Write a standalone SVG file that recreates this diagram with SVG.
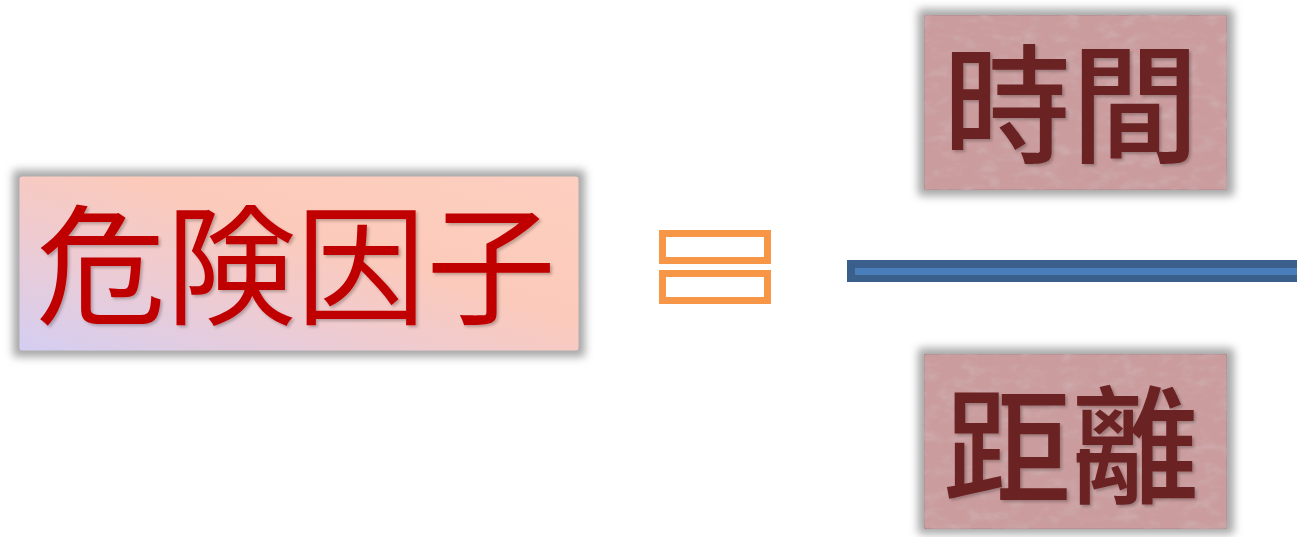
<svg xmlns="http://www.w3.org/2000/svg" width="1297" height="537" viewBox="0 0 1297 537">
<style>
.cjk{font-family:"Noto Sans CJK TC","Noto Sans CJK JP",sans-serif;font-weight:400;text-anchor:middle}
.red{fill:#C00000}
.brown{fill:#6B2222;font-weight:500}
.shade{fill:#a8a8a8;filter:url(#blur)}
.eq{fill:none;stroke:#F79646;stroke-width:7}
</style>
<defs>
<filter id="blur" x="-10%" y="-20%" width="120%" height="140%"><feGaussianBlur stdDeviation="4"/></filter>
<filter id="ts" x="-5%" y="-5%" width="110%" height="110%"><feDropShadow dx="2" dy="2" stdDeviation="1.5" flood-color="#000" flood-opacity="0.25"/></filter>
<filter id="tex" x="0" y="0" width="100%" height="100%">
<feTurbulence type="fractalNoise" baseFrequency="0.05 0.09" numOctaves="3" seed="4" result="n"/>
<feColorMatrix in="n" type="matrix" values="0 0 0 0 0.62  0 0 0 0 0.42  0 0 0 0 0.43  0 0 0 -2 1.05" result="c"/>
<feComposite in="c" in2="SourceGraphic" operator="in" result="m"/>
<feMerge><feMergeNode in="SourceGraphic"/><feMergeNode in="m"/></feMerge>
</filter>
<linearGradient id="pink" x1="0" y1="1" x2="1" y2="0">
<stop offset="0" stop-color="#D4CEF2"/>
<stop offset="0.35" stop-color="#EFCBD0"/>
<stop offset="0.6" stop-color="#FCCABA"/>
<stop offset="1" stop-color="#FDCFC0"/>
</linearGradient>
</defs>

<g id="node-risk">
<rect class="shade" x="13" y="170" width="572" height="187" rx="3"/>
<rect x="19" y="176" width="560" height="175" rx="3" fill="url(#pink)" stroke="#b0b0b0" stroke-width="1"/>
<text class="cjk red" x="296" y="314" font-size="130" filter="url(#ts)">危険因子</text>
</g>

<g id="node-equals">
<rect class="eq" x="662.5" y="233.5" width="105" height="27"/>
<rect class="eq" x="662.5" y="273.5" width="105" height="27"/>
</g>

<g id="connectors">
<rect x="847" y="260" width="460" height="22" fill="#3A5F8B"/>
<rect x="855" y="268" width="450" height="7" fill="#4A7EBB"/>
</g>

<g id="node-time">
<rect class="shade" x="918" y="9" width="316" height="187" rx="3"/>
<rect x="924" y="15" width="303" height="175" rx="3" fill="#CB9C9E" stroke="#a88" stroke-width="1" filter="url(#tex)"/>
<text class="cjk brown" x="1071" y="153" font-size="128" filter="url(#ts)">時間</text>
</g>

<g id="node-distance">
<rect class="shade" x="918" y="348" width="316" height="186" rx="3"/>
<rect x="924" y="354" width="303" height="175" rx="3" fill="#CB9C9E" stroke="#a88" stroke-width="1" filter="url(#tex)"/>
<text class="cjk brown" x="1071" y="494" font-size="128" filter="url(#ts)">距離</text>
</g>
</svg>
